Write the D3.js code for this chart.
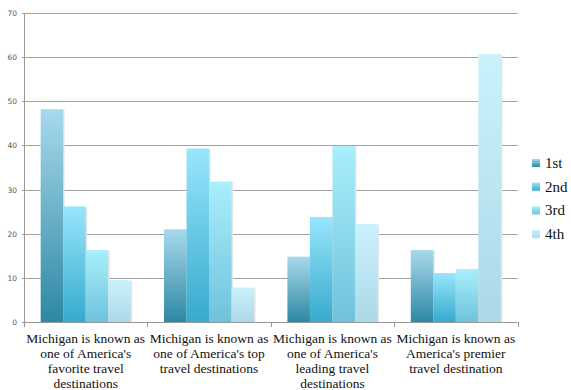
<!DOCTYPE html>
<head>
  <meta charset="utf-8">
  <script src="https://d3js.org/d3.v7.min.js"></script>
  <style>
    body { margin: 0; background: #fff; }
    .grid line { stroke: #a0a0a0; stroke-width: 1; }
    .axis path, .axis line { stroke: #999; shape-rendering: crispEdges; }
    .ytick { font-family: "DejaVu Sans", sans-serif; font-size: 7.5px; fill: #555; }
    .cat { font-family: "Liberation Serif", serif; font-size: 13.5px; fill: #111; }
    .legend text { font-family: "Liberation Serif", serif; font-size: 15px; fill: #111; }
  </style>
</head>
<body>
<div id="chart"></div>
<script>
var categories = [
  ["Michigan is known as", "one of America's", "favorite travel", "destinations"],
  ["Michigan is known as", "one of America's top", "travel destinations"],
  ["Michigan is known as", "one of America's", "leading travel", "destinations"],
  ["Michigan is known as", "America's premier", "travel destination"]
];
var seriesNames = ["1st", "2nd", "3rd", "4th"];
var first  = [48.2, 21.0, 14.8, 16.3];
var second = [26.2, 39.3, 23.8, 11.1];
var third  = [16.3, 31.8, 39.9, 12.0];
var fourth = [9.5, 7.8, 22.2, 60.7];
var yTicks = [0, 10, 20, 30, 40, 50, 60, 70];

// top / bottom gradient colours per series
var colorTop = ["#a8d9ec", "#98e6fc", "#a9effc", "#caf2fc"];
var colorBottom = ["#2d88a3", "#36aacd", "#6fc2dc", "#acd8e7"];

var series = [first, second, third, fourth];
var width = 571, height = 390;
var margin = {top: 13, right: 54, bottom: 68, left: 24};

var svg = d3.select("#chart").append("svg")
    .attr("width", width)
    .attr("height", height);

var defs = svg.append("defs");
seriesNames.forEach(function(s, i) {
  var g = defs.append("linearGradient")
      .attr("id", "grad" + i)
      .attr("x1", 0).attr("y1", 0).attr("x2", 0).attr("y2", 1);
  g.append("stop").attr("offset", "0%").attr("stop-color", colorTop[i]);
  g.append("stop").attr("offset", "100%").attr("stop-color", colorBottom[i]);
});

var x0 = d3.scaleBand()
    .domain(d3.range(categories.length))
    .range([margin.left, width - margin.right + 0.5])
    .paddingInner(0).paddingOuter(0);

var x1 = d3.scaleBand()
    .domain(d3.range(seriesNames.length))
    .range([0, x0.bandwidth()])
    .paddingOuter(0.74).paddingInner(0);

var y = d3.scaleLinear()
    .domain([0, 70])
    .range([height - margin.bottom, margin.top]);

// gridlines
svg.append("g").attr("class", "grid")
  .selectAll("line")
  .data(yTicks.slice(1))
  .enter().append("line")
    .attr("x1", margin.left - 2)
    .attr("x2", width - margin.right + 0.5)
    .attr("y1", function(d) { return Math.round(y(d)) + 0.5; })
    .attr("y2", function(d) { return Math.round(y(d)) + 0.5; });

// tick labels
svg.append("g").selectAll("text")
  .data(yTicks)
  .enter().append("text")
    .attr("class", "ytick")
    .attr("x", 17)
    .attr("y", function(d) { return y(d) + 3; })
    .attr("text-anchor", "end")
    .text(function(d) { return d; });

// bars
var groups = svg.append("g").selectAll("g")
  .data(categories)
  .enter().append("g")
    .attr("transform", function(d, i) { return "translate(" + x0(i) + ",0)"; });

groups.each(function(c, ci) {
  var g = d3.select(this);
  series.forEach(function(vals, si) {
    var v = vals[ci];
    // faint shadow
    g.append("rect")
      .attr("x", x1(si) + 1.5)
      .attr("y", y(v) + 1)
      .attr("width", x1.bandwidth())
      .attr("height", y(0) - y(v) - 1)
      .attr("fill", "#e4e4e4");
    g.append("rect")
      .attr("x", x1(si))
      .attr("y", y(v))
      .attr("width", x1.bandwidth())
      .attr("height", y(0) - y(v))
      .attr("fill", "url(#grad" + si + ")");
  });
});

// axes lines
svg.append("line")
  .attr("x1", margin.left + 0.5).attr("x2", margin.left + 0.5)
  .attr("y1", y(70)).attr("y2", y(0) + 1)
  .attr("stroke", "#999");
svg.append("line")
  .attr("x1", margin.left - 2).attr("x2", width - margin.right + 0.5)
  .attr("y1", Math.round(y(0)) + 0.5).attr("y2", Math.round(y(0)) + 0.5)
  .attr("stroke", "#999");

// category separators ticks
svg.append("g").selectAll("line")
  .data(d3.range(categories.length + 1))
  .enter().append("line")
    .attr("x1", function(i) { return Math.round(margin.left + i * x0.bandwidth()) + 0.5; })
    .attr("x2", function(i) { return Math.round(margin.left + i * x0.bandwidth()) + 0.5; })
    .attr("y1", y(0))
    .attr("y2", y(0) + 5)
    .attr("stroke", "#999");

// category labels
categories.forEach(function(lines, ci) {
  var t = svg.append("text")
    .attr("class", "cat")
    .attr("text-anchor", "middle")
    .attr("x", x0(ci) + x0.bandwidth() / 2)
    .attr("y", 343);
  lines.forEach(function(l, li) {
    t.append("tspan")
      .attr("x", x0(ci) + x0.bandwidth() / 2)
      .attr("dy", li === 0 ? 0 : 15)
      .text(l);
  });
});

// legend
var legend = svg.append("g").attr("class", "legend")
    .attr("transform", "translate(532,159)");
seriesNames.forEach(function(s, i) {
  var row = legend.append("g").attr("transform", "translate(0," + (i * 23.7) + ")");
  row.append("rect")
    .attr("width", 8).attr("height", 8)
    .attr("fill", "url(#grad" + i + ")");
  row.append("text")
    .attr("x", 13).attr("y", 9)
    .text(s);
});
</script>
</body>
